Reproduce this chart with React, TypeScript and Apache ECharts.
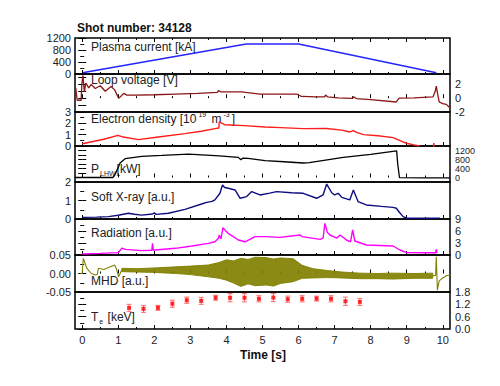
import React, { useEffect, useRef } from 'react';
import * as echarts from 'echarts';

// ---------- tick definitions ----------
const xTicks = [0, 1, 2, 3, 4, 5, 6, 7, 8, 9, 10];
const xMinorTicks = [0.5, 1.5, 2.5, 3.5, 4.5, 5.5, 6.5, 7.5, 8.5, 9.5];

// ---------- data ----------
// Plasma current [kA]
const ipTime = [0.02, 0.2, 4.55, 6.0, 9.82];
const ipVal = [40, 80, 1000, 1000, 40];

// Loop voltage [V]
const vTime = [-0.18, -0.14, -0.03, -0.01, 0.02, 0.06, 0.1, 0.18, 0.25, 0.36, 0.5, 0.64, 0.8, 0.9, 1.01, 1.08, 1.15, 1.24, 1.5, 2.0, 2.58, 3.2, 3.75, 3.78, 3.85, 4.42, 4.93, 5.95, 6.08, 6.5, 6.72, 6.75, 6.8, 7.1, 7.5, 7.53, 7.6, 8.0, 8.71, 8.79, 9.2, 9.73, 9.79, 9.82, 9.86, 9.9, 10.0, 10.1, 10.18];
const vVal = [1.5, -0.3, -0.3, 2.0, 3.3, 0.9, 2.2, 1.5, 2.0, 1.4, 1.8, 1.0, 1.7, 1.2, 0.0, 0.3, 0.7, 0.45, 0.45, 0.5, 0.6, 0.7, 0.85, 1.1, 0.9, 0.9, 0.6, 0.6, 0.25, 0.2, 0.2, 0.45, 0.2, 0.05, -0.04, 0.2, -0.05, -0.2, -0.55, 0.0, 0.05, 0.2, 1.0, 1.75, 0.5, -0.55, -0.8, -0.9, -1.3];

// Electron density [10^19 m^-3]
const neTime = [0.0, 0.3, 0.6, 0.99, 1.1, 1.56, 2.11, 2.85, 3.3, 3.68, 3.79, 3.8, 3.95, 4.5, 5.07, 5.5, 6.13, 6.77, 7.2, 7.42, 7.52, 7.61, 7.8, 8.2, 8.62, 8.8, 8.99, 9.2, 9.36];
const neVal = [0.2, 0.4, 0.6, 0.94, 0.82, 0.56, 0.8, 1.09, 1.3, 1.53, 1.59, 2.12, 1.88, 1.8, 1.68, 1.62, 1.53, 1.55, 1.4, 1.24, 1.35, 1.2, 1.0, 0.9, 0.74, 0.5, 0.24, 0.1, 0.0];
const neSpikeTime = [9.74, 9.75, 9.76];
const neSpikeVal = [-0.05, 0.25, -0.05];

// LHW power [kW]
const pTime = [-0.2, 0.85, 0.9, 1.0, 1.05, 1.19, 1.65, 2.21, 2.95, 3.32, 3.8, 4.33, 4.4, 4.45, 4.6, 5.07, 5.6, 6.13, 6.3, 7.24, 8.0, 8.72, 8.75, 8.8, 9.5, 10.2];
const pVal = [0, 0, 100, 450, 645, 835, 937, 980, 1040, 1010, 960, 894, 790, 860, 850, 748, 700, 645, 660, 894, 1030, 1185, 600, -10, -20, -20];

// Soft X-ray [a.u.]
const sxrTime = [0.0, 0.4, 0.73, 1.0, 1.28, 1.45, 1.65, 1.95, 2.0, 2.05, 2.39, 2.85, 3.31, 3.45, 3.6, 3.68, 3.82, 3.89, 3.95, 4.05, 4.24, 4.38, 4.56, 4.7, 4.93, 5.2, 5.39, 5.8, 6.13, 6.5, 6.68, 6.78, 6.92, 7.0, 7.1, 7.2, 7.42, 7.52, 7.65, 7.88, 8.3, 8.62, 8.71, 8.8, 8.9, 9.0, 9.5, 9.92];
const sxrVal = [0.09, 0.1, 0.13, 0.2, 0.31, 0.26, 0.21, 0.27, 0.33, 0.25, 0.31, 0.52, 0.81, 0.9, 0.95, 1.03, 1.39, 1.84, 1.7, 1.66, 1.57, 1.12, 1.21, 1.48, 1.3, 1.4, 1.48, 1.42, 1.39, 1.12, 1.3, 1.89, 1.42, 1.3, 1.39, 1.17, 1.03, 1.57, 0.94, 0.76, 0.68, 0.63, 0.58, 0.35, 0.13, 0.04, 0.04, 0.04];

// Radiation [a.u.]
const radTime = [0.0, 0.5, 1.0, 1.1, 1.2, 1.65, 1.93, 1.95, 1.97, 2.1, 2.58, 3.04, 3.5, 3.68, 3.78, 3.8, 3.85, 3.9, 4.05, 4.33, 4.52, 4.79, 5.07, 5.48, 6.04, 6.1, 6.6, 6.68, 6.73, 6.8, 6.87, 7.06, 7.15, 7.33, 7.44, 7.5, 7.56, 7.88, 8.62, 8.81, 9.0, 9.5, 9.8, 9.82, 9.84];
const radVal = [0.25, 0.4, 0.6, 1.7, 1.4, 1.1, 1.2, 2.9, 1.2, 1.3, 1.67, 2.25, 2.9, 3.3, 4.2, 5.0, 4.0, 6.8, 5.4, 3.75, 3.3, 4.6, 4.6, 4.4, 5.0, 4.6, 3.9, 4.2, 7.9, 5.6, 5.0, 4.2, 5.0, 3.75, 3.3, 6.25, 3.5, 2.5, 2.25, 1.25, 0.6, 0.55, 0.55, 1.4, 0.5];

// MHD [a.u.] : early trace, envelope of the dense oscillation, final spike
const mhdEarlyTime = [-0.05, 0.0, 0.03, 0.13, 0.25, 0.36, 0.42, 0.45, 0.6, 0.73, 0.9, 0.95, 1.01, 1.1];
const mhdEarlyVal = [0.0, 0.0, 0.041, 0.014, 0.0, -0.004, -0.002, 0.014, 0.011, 0.016, 0.023, 0.012, -0.009, 0.01];
const mhdBandTime = [1.1, 1.5, 2.0, 2.6, 3.0, 3.5, 3.8, 4.0, 4.2, 4.4, 4.6, 4.8, 5.1, 5.3, 5.5, 5.85, 6.1, 6.4, 6.8, 7.2, 7.7, 8.2, 8.62, 9.2, 9.72];
const mhdUpper = [0.014, 0.013, 0.015, 0.018, 0.02, 0.023, 0.03, 0.037, 0.034, 0.041, 0.038, 0.044, 0.043, 0.039, 0.042, 0.040, 0.022, 0.013, 0.008, 0.004, 0.001, 0.0, 0.001, 0.0, 0.001];
const mhdLower = [0.005, 0.004, 0.003, 0.0, -0.003, -0.009, -0.013, -0.018, -0.026, -0.035, -0.028, -0.033, -0.031, -0.034, -0.027, -0.022, -0.013, -0.012, -0.011, -0.012, -0.014, -0.014, -0.015, -0.013, -0.013];
const mhdEndTime = [9.72, 9.8, 9.82, 9.85, 9.9, 10.0, 10.1, 10.2];
const mhdEndVal = [-0.006, -0.005, 0.045, -0.045, -0.02, -0.012, -0.006, -0.004];

// Electron temperature [keV]
const teTime = [1.3, 1.7, 2.1, 2.5, 2.9, 3.3, 3.7, 4.1, 4.5, 4.9, 5.3, 5.7, 6.1, 6.5, 6.9, 7.3, 7.7];
const teVal = [1.03, 0.98, 1.03, 1.23, 1.4, 1.37, 1.52, 1.52, 1.52, 1.47, 1.53, 1.45, 1.47, 1.48, 1.47, 1.35, 1.32];
const teErr = [0.17, 0.17, 0.12, 0.17, 0.15, 0.17, 0.12, 0.2, 0.2, 0.15, 0.2, 0.15, 0.15, 0.12, 0.15, 0.2, 0.17];

const zip = (t: number[], v: number[]) => t.map((x, i) => [x, v[i]]);

const FONT = 'Liberation Sans, Arial, Helvetica, sans-serif';

type Panel = {
  top: number; h: number; min: number; max: number; interval: number;
  side: 'left' | 'right'; minor: number; fs: number; fmt: (v: number) => string;
};

const panels: Panel[] = [
  { top: 38, h: 36, min: 0, max: 1200, interval: 400, side: 'left', minor: 2, fs: 11, fmt: (v) => String(v) },
  { top: 74, h: 38, min: -2, max: 3.5, interval: 1, side: 'right', minor: 0, fs: 11, fmt: (v) => (Math.abs(v % 2) < 1e-6 ? String(v) : '') },
  { top: 112, h: 34, min: 0, max: 3, interval: 1, side: 'left', minor: 2, fs: 11, fmt: (v) => String(v) },
  { top: 146, h: 36, min: -200, max: 1400, interval: 200, side: 'right', minor: 0, fs: 9, fmt: (v) => (v >= 0 && v <= 1200 && v % 400 === 0 ? String(v) : '') },
  { top: 182, h: 37, min: 0, max: 2, interval: 1, side: 'left', minor: 2, fs: 11, fmt: (v) => String(v) },
  { top: 219, h: 36, min: 0, max: 9, interval: 3, side: 'right', minor: 2, fs: 11, fmt: (v) => String(v) },
  { top: 255, h: 37, min: -0.05, max: 0.05, interval: 0.05, side: 'left', minor: 2, fs: 11, fmt: (v) => v.toFixed(2) },
  { top: 292, h: 37, min: 0, max: 1.8, interval: 0.6, side: 'right', minor: 2, fs: 11, fmt: (v) => v.toFixed(1) },
];

function buildOption() {
  const grid = panels.map((p) => ({
    left: 75, width: 375, top: p.top, height: p.h,
    show: true, borderColor: '#000', borderWidth: 1.5, backgroundColor: 'transparent',
  }));

  const xAxis: any[] = [];
  panels.forEach((p, i) => {
    xAxis.push({
      type: 'value', gridIndex: i, position: 'bottom', min: -0.2, max: 10.2,
      axisLine: { show: false }, splitLine: { show: false },
      axisTick: { show: true, inside: true, length: 4, customValues: xTicks, lineStyle: { color: '#000', width: 1 } },
      axisLabel: { show: i === panels.length - 1, customValues: xTicks, fontSize: 11, color: '#222', margin: 5, fontFamily: FONT },
    });
    xAxis.push({
      type: 'value', gridIndex: i, position: 'bottom', min: -0.2, max: 10.2,
      axisLine: { show: false }, splitLine: { show: false },
      axisTick: { show: true, inside: true, length: 2, customValues: xMinorTicks, lineStyle: { color: '#000', width: 1 } },
      axisLabel: { show: false, customValues: xMinorTicks },
    });
  });
  xAxis.push({
    type: 'value', gridIndex: 0, position: 'top', min: -0.2, max: 10.2,
    axisLine: { show: false }, splitLine: { show: false },
    axisTick: { show: true, inside: true, length: 4, customValues: xTicks, lineStyle: { color: '#000', width: 1 } },
    axisLabel: { show: false, customValues: xTicks },
  });
  xAxis.push({
    type: 'value', gridIndex: 0, position: 'top', min: -0.2, max: 10.2,
    axisLine: { show: false }, splitLine: { show: false },
    axisTick: { show: true, inside: true, length: 2, customValues: xMinorTicks, lineStyle: { color: '#000', width: 1 } },
    axisLabel: { show: false, customValues: xMinorTicks },
  });

  const yAxis: any[] = [];
  panels.forEach((p, i) => {
    (['left', 'right'] as const).forEach((side) => {
      yAxis.push({
        type: 'value', gridIndex: i, position: side, min: p.min, max: p.max, interval: p.interval,
        axisLine: { show: false }, splitLine: { show: false },
        axisTick: { show: true, inside: true, length: 4, lineStyle: { color: '#000', width: 1 } },
        minorTick: { show: p.minor > 0, splitNumber: p.minor || 5, length: 2, lineStyle: { color: '#000', width: 1 } },
        axisLabel: {
          show: side === p.side, formatter: p.fmt, fontSize: p.fs, color: '#222',
          margin: side === 'left' ? 4 : 5, fontFamily: FONT, lineHeight: 9,
        },
      });
    });
  });

  const line = (i: number, t: number[], v: number[], color: string, width = 1.3, extra: any = {}) => ({
    type: 'line', xAxisIndex: 2 * i, yAxisIndex: 2 * i, data: zip(t, v),
    symbol: 'none', showSymbol: false, silent: true,
    lineStyle: { color, width }, ...extra,
  });

  const olive = '#808000';
  const series: any[] = [
    line(0, ipTime, ipVal, '#2424ff', 1.5),
    line(1, vTime, vVal, '#8b1616', 1.3),
    line(2, neTime, neVal, '#ff1c1c', 1.4),
    line(2, neSpikeTime, neSpikeVal, '#ff1c1c', 1.4),
    line(3, pTime, pVal, '#000000', 1.3),
    line(4, sxrTime, sxrVal, '#0c0c80', 1.4),
    line(5, radTime, radVal, '#ff00ff', 1.4),
    line(6, mhdEarlyTime, mhdEarlyVal, olive, 1.1),
    {
      // envelope of the dense MHD oscillation, drawn as one polygon through the axes
      type: 'custom', xAxisIndex: 12, yAxisIndex: 12, silent: true, clip: true,
      data: mhdBandTime.map((t, k) => [t, mhdUpper[k], mhdLower[k]]),
      renderItem: (params: any, api: any) => {
        if (params.dataIndex !== 0) return null;
        const up = mhdBandTime.map((t, k) => api.coord([t, mhdUpper[k]]));
        const lo = mhdBandTime.map((t, k) => api.coord([t, mhdLower[k]])).reverse();
        return {
          type: 'polygon',
          shape: { points: up.concat(lo) },
          style: { fill: olive, stroke: olive, lineWidth: 1, opacity: 0.92 },
        };
      },
    },
    line(6, mhdEndTime, mhdEndVal, olive, 1.1),
    {
      type: 'custom', xAxisIndex: 14, yAxisIndex: 14, silent: true,
      data: teTime.map((t, k) => [t, teVal[k], teErr[k]]),
      renderItem: (params: any, api: any) => {
        const x = api.value(0), y = api.value(1), e = api.value(2);
        const top = api.coord([x, y + e]);
        const bot = api.coord([x, y - e]);
        const hw = 2.5;
        const st = { stroke: '#ff6a6a', lineWidth: 1 };
        return {
          type: 'group',
          children: [
            { type: 'line', shape: { x1: top[0], y1: top[1], x2: bot[0], y2: bot[1] }, style: st },
            { type: 'line', shape: { x1: top[0] - hw, y1: top[1], x2: top[0] + hw, y2: top[1] }, style: st },
            { type: 'line', shape: { x1: bot[0] - hw, y1: bot[1], x2: bot[0] + hw, y2: bot[1] }, style: st },
          ],
        };
      },
    },
    {
      type: 'scatter', xAxisIndex: 14, yAxisIndex: 14, silent: true,
      data: zip(teTime, teVal), symbol: 'rect', symbolSize: 4,
      itemStyle: { color: '#ff0000' },
    },
  ];

  const rich = {
    a: { fontSize: 12, fontFamily: FONT, color: '#222', lineHeight: 16 },
    sup: { fontSize: 7, fontFamily: FONT, color: '#222', lineHeight: 16, verticalAlign: 'top', padding: [0, 2, 6, 2] },
    sub: { fontSize: 7, fontFamily: FONT, color: '#666', lineHeight: 16, verticalAlign: 'bottom', padding: [6, 1, 0, 1] },
  };
  const label = (y: number, text: string) => ({
    type: 'text', x: 91, y, silent: true,
    style: { text, rich, verticalAlign: 'middle', font: `12px ${FONT}`, fill: '#222' },
  });

  const graphic = [
    { type: 'text', x: 77, y: 28, silent: true, style: { text: 'Shot number: 34128', font: `bold 12px ${FONT}`, fill: '#111', verticalAlign: 'middle' } },
    label(47, '{a|Plasma current [kA]}'),
    label(80, '{a|Loop voltage [V]}'),
    label(119, '{a|Electron density [10}{sup|19}{a| m}{sup|-3}{a|]}'),
    label(169, '{a|P}{sub|LHW}{a|[kW]}'),
    label(197, '{a|Soft X-ray [a.u.]}'),
    label(233, '{a|Radiation [a.u.]}'),
    label(281, '{a|MHD [a.u.]}'),
    label(317, '{a|T}{sub|e}{a| [keV]}'),
    { type: 'text', x: 263, y: 355, silent: true, style: { text: 'Time [s]', font: `bold 12px ${FONT}`, fill: '#111', align: 'center', verticalAlign: 'middle' } },
  ];

  return { animation: false, backgroundColor: '#fff', grid, xAxis, yAxis, series, graphic };
}

export default function App() {
  const ref = useRef<HTMLDivElement>(null);
  useEffect(() => {
    if (!ref.current) return;
    const chart = echarts.init(ref.current, undefined, { renderer: 'svg' });
    chart.setOption(buildOption() as any);
    return () => chart.dispose();
  }, []);
  return <div ref={ref} style={{ position: 'fixed', left: 0, top: 0, width: 500, height: 386, background: '#fff' }} />;
}
